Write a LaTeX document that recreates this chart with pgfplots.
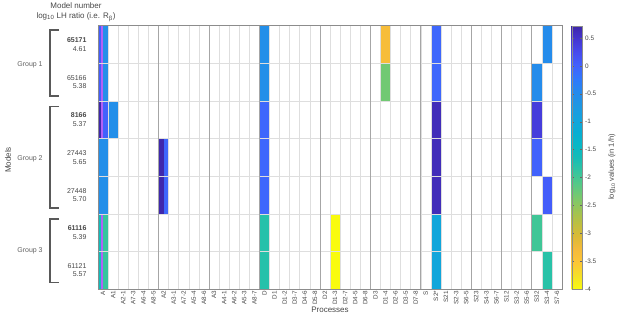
\documentclass[border=0pt]{standalone}
\usepackage{pgfplots}
\pgfplotsset{compat=1.18}
\usepgfplotslibrary{patchplots}
\usepackage{fontspec}
\setmainfont{Liberation Sans}
\definecolor{txt}{gray}{0.28}
\definecolor{grp}{gray}{0.38}
\definecolor{mag}{rgb}{0.70,0.38,0.96}
\pgfplotsset{colormap={parulaR}{
rgb=(0.9763,0.9831,0.0538)
rgb=(0.96,0.88,0.15)
rgb=(0.99,0.78,0.21)
rgb=(0.96,0.73,0.23)
rgb=(0.86,0.73,0.21)
rgb=(0.74,0.75,0.25)
rgb=(0.61,0.77,0.33)
rgb=(0.47,0.79,0.43)
rgb=(0.33,0.79,0.53)
rgb=(0.20,0.77,0.63)
rgb=(0.08,0.74,0.72)
rgb=(0.03,0.72,0.78)
rgb=(0.03,0.68,0.83)
rgb=(0.08,0.64,0.87)
rgb=(0.12,0.59,0.89)
rgb=(0.15,0.54,0.93)
rgb=(0.19,0.47,0.99)
rgb=(0.26,0.38,0.99)
rgb=(0.278,0.29,0.93)
rgb=(0.27,0.21,0.82)
rgb=(0.2422,0.1504,0.6603)}}
\pgfplotstableread{
x y c
0 0 0.05
0.33 0 0.05
0.33 2 0.05
0 2 0.05
0.47 0 -0.55
1 0 -0.55
1 2 -0.55
0.47 2 -0.55
0 2 0.7
0.33 2 0.7
0.33 3 0.7
0 3 0.7
0.47 2 0.0
1 2 0.0
1 3 0.0
0.47 3 0.0
0 3 -0.55
1 3 -0.55
1 5 -0.55
0 5 -0.55
0 5 -0.6
0.13 5 -0.6
0.13 7 -0.6
0 7 -0.6
0.13 5 -1.6
0.33 5 -1.6
0.33 7 -1.6
0.13 7 -1.6
0.47 5 -1.9
1 5 -1.9
1 7 -1.9
0.47 7 -1.9
1 2 -0.55
2 2 -0.55
2 3 -0.55
1 3 -0.55
6 3 0.7
6.6 3 0.7
6.6 5 0.7
6 5 0.7
6.6 3 -0.05
7 3 -0.05
7 5 -0.05
6.6 5 -0.05
16 0 -0.55
17 0 -0.55
17 2 -0.55
16 2 -0.55
16 2 -0.05
17 2 -0.05
17 5 -0.05
16 5 -0.05
16 5 -1.78
17 5 -1.78
17 7 -1.78
16 7 -1.78
23 5 -4
24 5 -4
24 7 -4
23 7 -4
28 0 -3.35
29 0 -3.35
29 1 -3.35
28 1 -3.35
28 1 -2.3
29 1 -2.3
29 2 -2.3
28 2 -2.3
33 0 -0.05
34 0 -0.05
34 2 -0.05
33 2 -0.05
33 2 0.62
34 2 0.62
34 5 0.62
33 5 0.62
33 5 -1.0
34 5 -1.0
34 7 -1.0
33 7 -1.0
43 1 -0.5
44 1 -0.5
44 2 -0.5
43 2 -0.5
43 2 0.4
44 2 0.4
44 3 0.4
43 3 0.4
43 3 0.0
44 3 0.0
44 4 0.0
43 4 0.0
43 5 -1.97
44 5 -1.97
44 6 -1.97
43 6 -1.97
44 0 -0.5
45 0 -0.5
45 1 -0.5
44 1 -0.5
44 4 0.05
45 4 0.05
45 5 0.05
44 5 0.05
44 6 -1.8
45 6 -1.8
45 7 -1.8
44 7 -1.8
}\cells
\begin{document}
\begin{tikzpicture}
\useasboundingbox (0,0) rectangle (617pt,319pt);
\begin{axis}[
  at={(98pt,30pt)}, anchor=south west,
  width=464pt, height=263.3pt, scale only axis,
  xmin=0, xmax=46, ymin=0, ymax=7, y dir=reverse,
  colormap name=parulaR,
  point meta min=-4, point meta max=0.72,
  axis on top,
  axis line style={black!45, line width=0.6pt},
  xtick={0.5,1.5,...,45.5},
  xticklabels={A,A1,A2-1,A7-3,A6-4,A8-5,A2,A3-1,A7-2,A5-4,A8-6,A3,A4-1,A6-2,A5-3,A8-7,D,D1,D1-2,D3-7,D4-6,D5-8,D2,D1-3,D2-7,D4-5,D6-8,D3,D1-4,D2-6,D3-5,D7-8,S,S2*,S21,S2-3,S6-5,S23,S4-3,S6-7,S12,S3-2,S5-6,S32,S3-4,S7-6},
  xticklabel style={rotate=90, anchor=east, font=\fontsize{6.3}{7}\selectfont, text=txt, inner sep=1.8pt},
  ytick={0.5,1.5,...,6.5},
  yticklabels={{\textbf{65171}\\4.61},{65166\\5.38},{\textbf{8166}\\5.37},{27443\\5.65},{27448\\5.70},{\textbf{61116}\\5.39},{61121\\5.57}},
  yticklabel style={align=right, font=\fontsize{7}{8.5}\selectfont, text=txt, xshift=-8pt},
  minor xtick={0,1,...,46}, minor ytick={0,1,...,7},
  xminorgrids, yminorgrids,
  minor grid style={black!13, line width=0.5pt},
  major tick length=0pt, minor tick length=0pt,
  extra x ticks={6,11,16,22,27,32,37,40,43},
  extra x tick labels={},
  extra x tick style={grid=major, major grid style={black!35, line width=0.8pt}},
  colorbar,
  colorbar shift/.style={xshift=9.7pt},
  colorbar style={
    at={(parent axis.north east)}, anchor=north west,
    width=10pt, scale only axis,
    axis line style={black!45},
    ytick={-4,-3.5,...,0.5},
    yticklabels={-4,-3.5,-3,-2.5,-2,-1.5,-1,-0.5,0,0.5},
    yticklabel style={font=\fontsize{6.4}{7}\selectfont, text=txt},
    major tick length=2pt, tick align=inside, ytick style={black!60},
  },
]
\addplot[patch, patch type=rectangle, shader=flat corner, point meta=\thisrow{c}] table[x=x, y=y] {\cells};
\addplot[fill=mag, draw=none] coordinates {(0.33,0) (0.47,0) (0.47,3) (0.33,3)} -- cycle;
\addplot[fill=mag, draw=none] coordinates {(0.33,5) (0.47,5) (0.47,7) (0.33,7)} -- cycle;
\end{axis}
\begin{scope}[text=txt]
\node[font=\fontsize{8}{9}\selectfont] at (76pt,313pt) {Model number};
\node[font=\fontsize{8}{9}\selectfont] at (76pt,302pt) {log\textsubscript{10} LH ratio (i.e. R\textsubscript{β})};
\node[font=\fontsize{8}{9}\selectfont, rotate=90] at (8pt,159pt) {Models};
\node[font=\fontsize{8}{9}\selectfont] at (330pt,9pt) {Processes};
\node[font=\fontsize{7}{8}\selectfont, text=grp] at (30pt,254pt) {Group 1};
\node[font=\fontsize{7}{8}\selectfont, text=grp] at (30pt,160pt) {Group 2};
\node[font=\fontsize{7}{8}\selectfont, text=grp] at (30pt,68pt) {Group 3};
\node[font=\fontsize{7.5}{9}\selectfont, rotate=90] at (612pt,152pt) {log\textsubscript{10} values (in 1/h)};
\end{scope}
\begin{scope}[draw=black!65, line width=1.1pt]
\draw (59pt,289pt) -- (50pt,289pt) -- (50pt,223pt) -- (59pt,223pt);
\draw (59pt,212.3pt) -- (50pt,212.3pt) -- (50pt,111pt) -- (59pt,111pt);
\draw (59pt,100pt) -- (50pt,100pt) -- (50pt,36.3pt) -- (59pt,36.3pt);
\end{scope}
\end{tikzpicture}
\end{document}
